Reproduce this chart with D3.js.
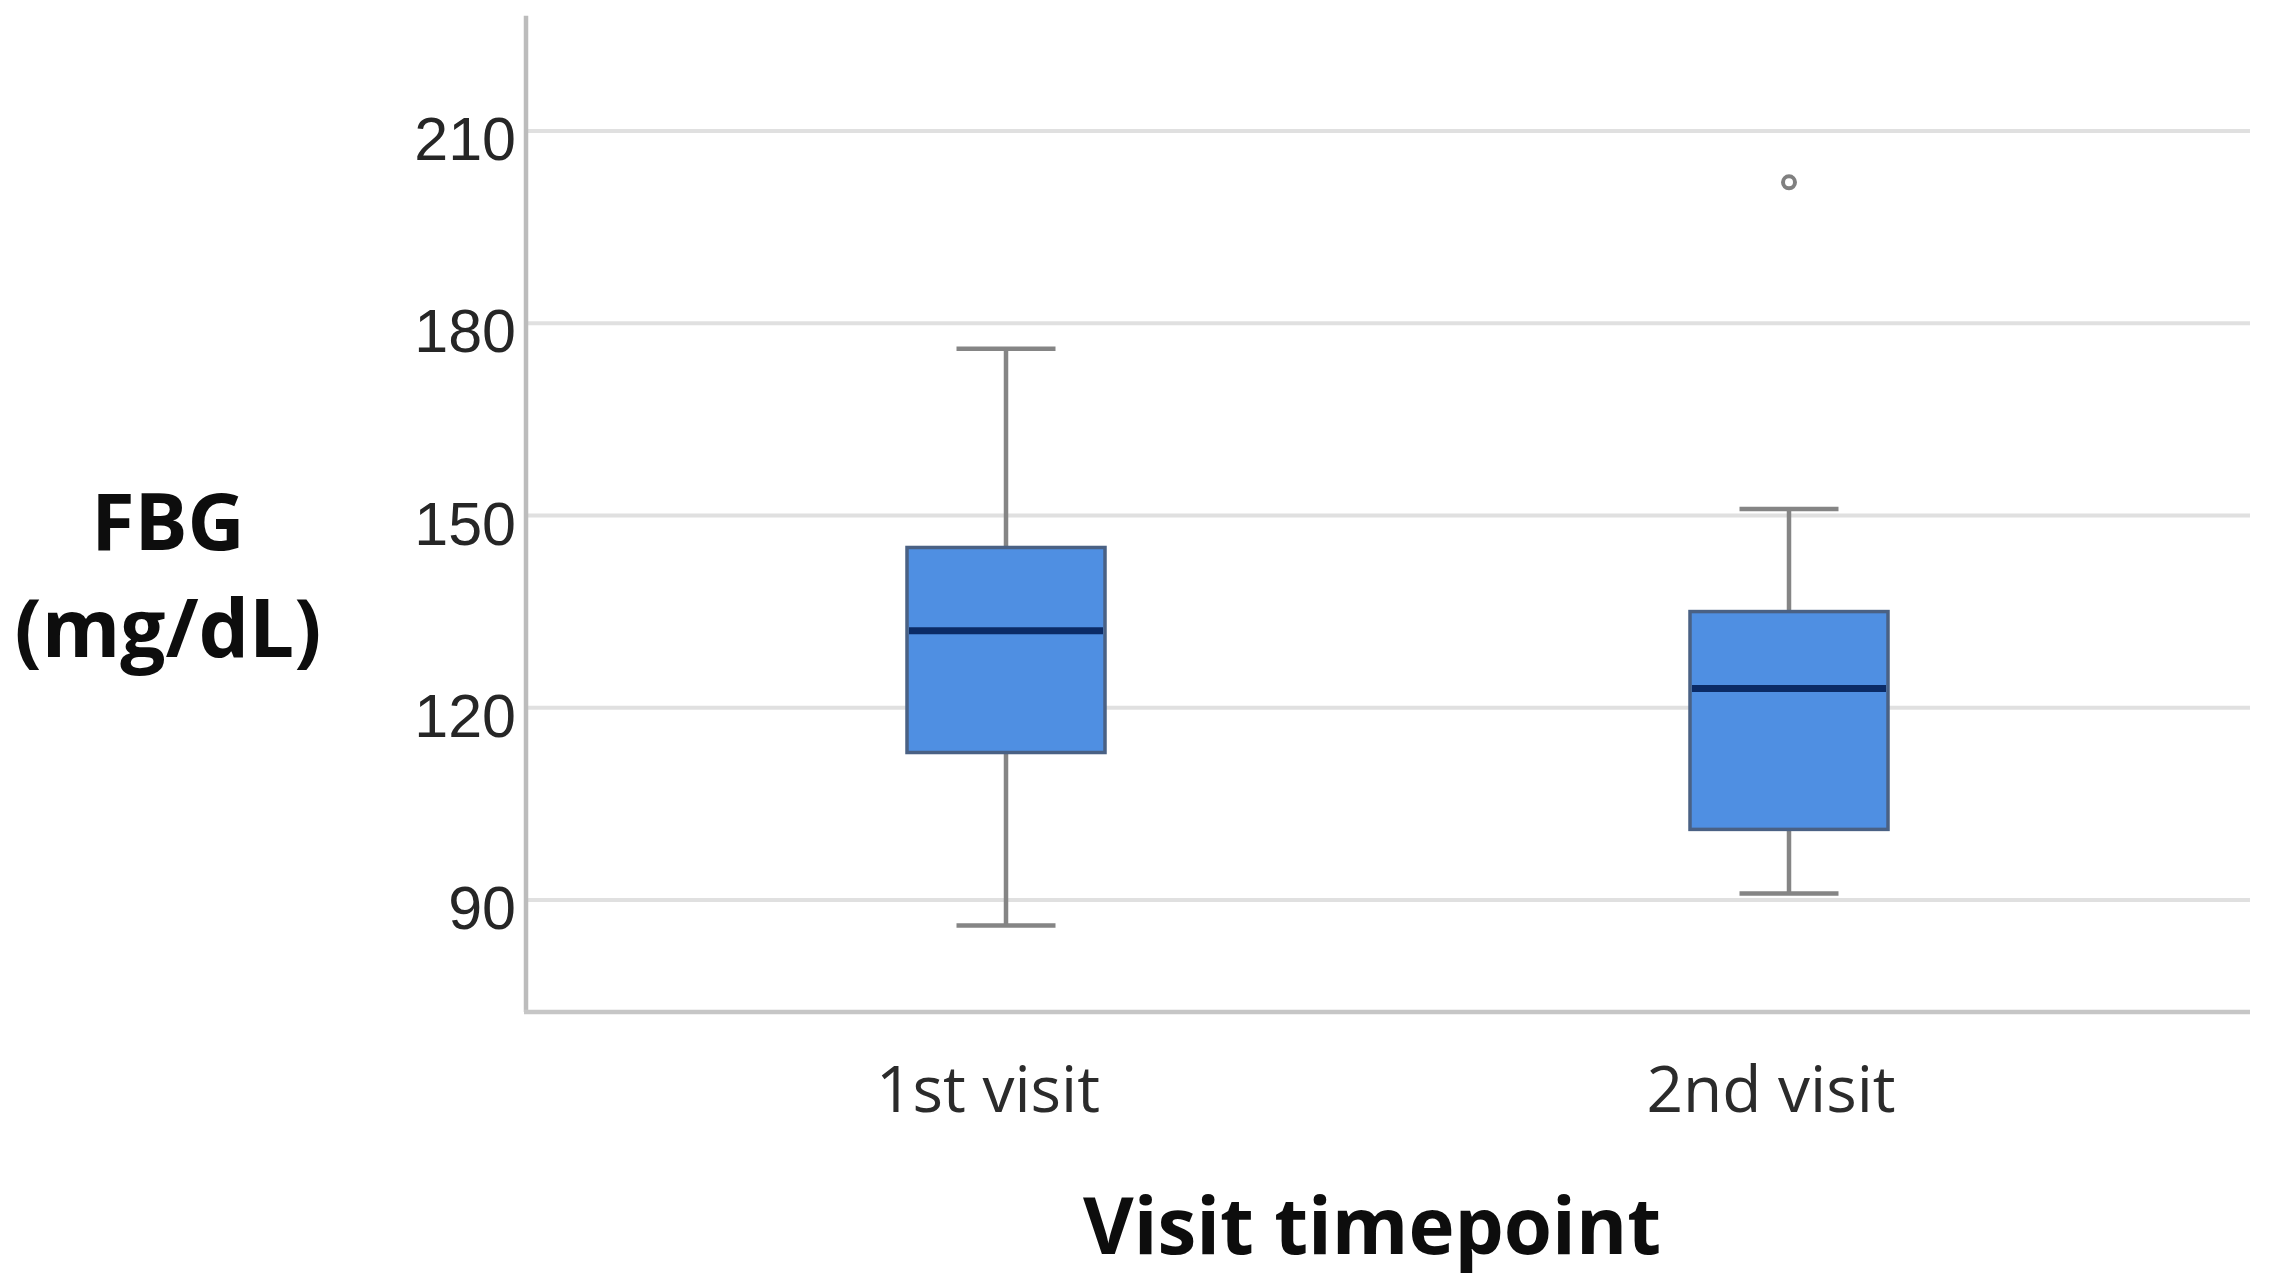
<!DOCTYPE html>
<html>
<head>
<meta charset="utf-8">
<script src="https://cdn.jsdelivr.net/npm/d3@7"></script>
<style>
  html, body { margin: 0; padding: 0; background: #ffffff; }
  svg { display: block; }
</style>
</head>
<body>
<script>
// ---- Data ----
const categories = ["1st visit", "2nd visit"];
const whiskerLow  = [86, 91];
const q1          = [113, 101];
const median      = [132, 123];
const q3          = [145, 135];
const whiskerHigh = [176, 151];
const outliers    = [[], [202]];
const yTicks      = [90, 120, 150, 180, 210];
const yTitleLines = ["FBG", "(mg/dL)"];
const xTitle      = "Visit timepoint";

// ---- Layout ----
const W = 2280, H = 1288;
const axisX = 526, plotRight = 2250;
const boxW = 198, capW = 99;

const svg = d3.select("body").append("svg")
  .attr("width", W).attr("height", H)
  .style("font-family", "'Open Sans', sans-serif");

const y = d3.scaleLinear().domain([72.5, 228]).range([1012, 15.7]);
const x = d3.scalePoint().domain(categories).range([1006, 1789]).padding(0);

// gridlines
svg.append("g").selectAll("line").data(yTicks).join("line")
  .attr("x1", axisX).attr("x2", plotRight)
  .attr("y1", d => y(d)).attr("y2", d => y(d))
  .attr("stroke", "#e0e0e0").attr("stroke-width", 4);

// axis lines
svg.append("line")
  .attr("x1", axisX).attr("x2", axisX)
  .attr("y1", y(228)).attr("y2", y(72.5))
  .attr("stroke", "#bcbcbc").attr("stroke-width", 4.5);
svg.append("line")
  .attr("x1", axisX - 2).attr("x2", plotRight)
  .attr("y1", y(72.5)).attr("y2", y(72.5))
  .attr("stroke", "#c6c6c6").attr("stroke-width", 4.5);

// y axis labels
const yAxis = svg.append("g")
  .attr("transform", `translate(${axisX},0)`)
  .call(d3.axisLeft(y).tickValues(yTicks).tickSize(0).tickPadding(10));
yAxis.select(".domain").remove();
yAxis.selectAll("text")
  .attr("dy", "0.47em")
  .style("font-family", "'Liberation Sans', Arial, sans-serif")
  .style("font-size", "61px")
  .attr("fill", "#262626");

// x axis labels
svg.append("g").selectAll("text").data(categories).join("text")
  .attr("x", d => x(d) - 18).attr("y", 1112)
  .attr("text-anchor", "middle")
  .style("font-size", "64px")
  .attr("fill", "#2b2b2b")
  .text(d => d);

// boxes
const data = categories.map((c, i) => ({
  c, lo: whiskerLow[i], q1: q1[i], med: median[i], q3: q3[i], hi: whiskerHigh[i], out: outliers[i]
}));
const g = svg.append("g").selectAll("g").data(data).join("g");

g.append("line")
  .attr("x1", d => x(d.c)).attr("x2", d => x(d.c))
  .attr("y1", d => y(d.hi)).attr("y2", d => y(d.q3))
  .attr("stroke", "#858585").attr("stroke-width", 4.5);
g.append("line")
  .attr("x1", d => x(d.c)).attr("x2", d => x(d.c))
  .attr("y1", d => y(d.q1)).attr("y2", d => y(d.lo))
  .attr("stroke", "#858585").attr("stroke-width", 4.5);
g.append("line")
  .attr("x1", d => x(d.c) - capW / 2).attr("x2", d => x(d.c) + capW / 2)
  .attr("y1", d => y(d.hi)).attr("y2", d => y(d.hi))
  .attr("stroke", "#858585").attr("stroke-width", 4.5);
g.append("line")
  .attr("x1", d => x(d.c) - capW / 2).attr("x2", d => x(d.c) + capW / 2)
  .attr("y1", d => y(d.lo)).attr("y2", d => y(d.lo))
  .attr("stroke", "#858585").attr("stroke-width", 4.5);

g.append("rect")
  .attr("x", d => x(d.c) - boxW / 2).attr("width", boxW)
  .attr("y", d => y(d.q3)).attr("height", d => y(d.q1) - y(d.q3))
  .attr("fill", "#4f8fe2")
  .attr("stroke", "#4a6184").attr("stroke-width", 3.5);

g.append("line")
  .attr("x1", d => x(d.c) - boxW / 2 + 2).attr("x2", d => x(d.c) + boxW / 2 - 2)
  .attr("y1", d => y(d.med)).attr("y2", d => y(d.med))
  .attr("stroke", "#0b2b66").attr("stroke-width", 7);

g.selectAll("circle").data(d => d.out.map(v => ({ c: d.c, v }))).join("circle")
  .attr("cx", d => x(d.c)).attr("cy", d => y(d.v))
  .attr("r", 6)
  .attr("fill", "#ffffff").attr("stroke", "#808080").attr("stroke-width", 4);

// axis titles
svg.append("g").selectAll("text").data(yTitleLines).join("text")
  .attr("x", 168).attr("y", (d, i) => i === 0 ? 550 : 657)
  .attr("text-anchor", "middle")
  .style("font-size", (d, i) => i === 0 ? "79px" : "80px").style("font-weight", "bold")
  .attr("fill", "#0d0d0d")
  .text(d => d);

svg.append("text")
  .attr("x", 1372).attr("y", 1254)
  .attr("text-anchor", "middle")
  .style("font-size", "78px").style("font-weight", "bold")
  .attr("fill", "#0d0d0d")
  .text(xTitle);
</script>
</body>
</html>
